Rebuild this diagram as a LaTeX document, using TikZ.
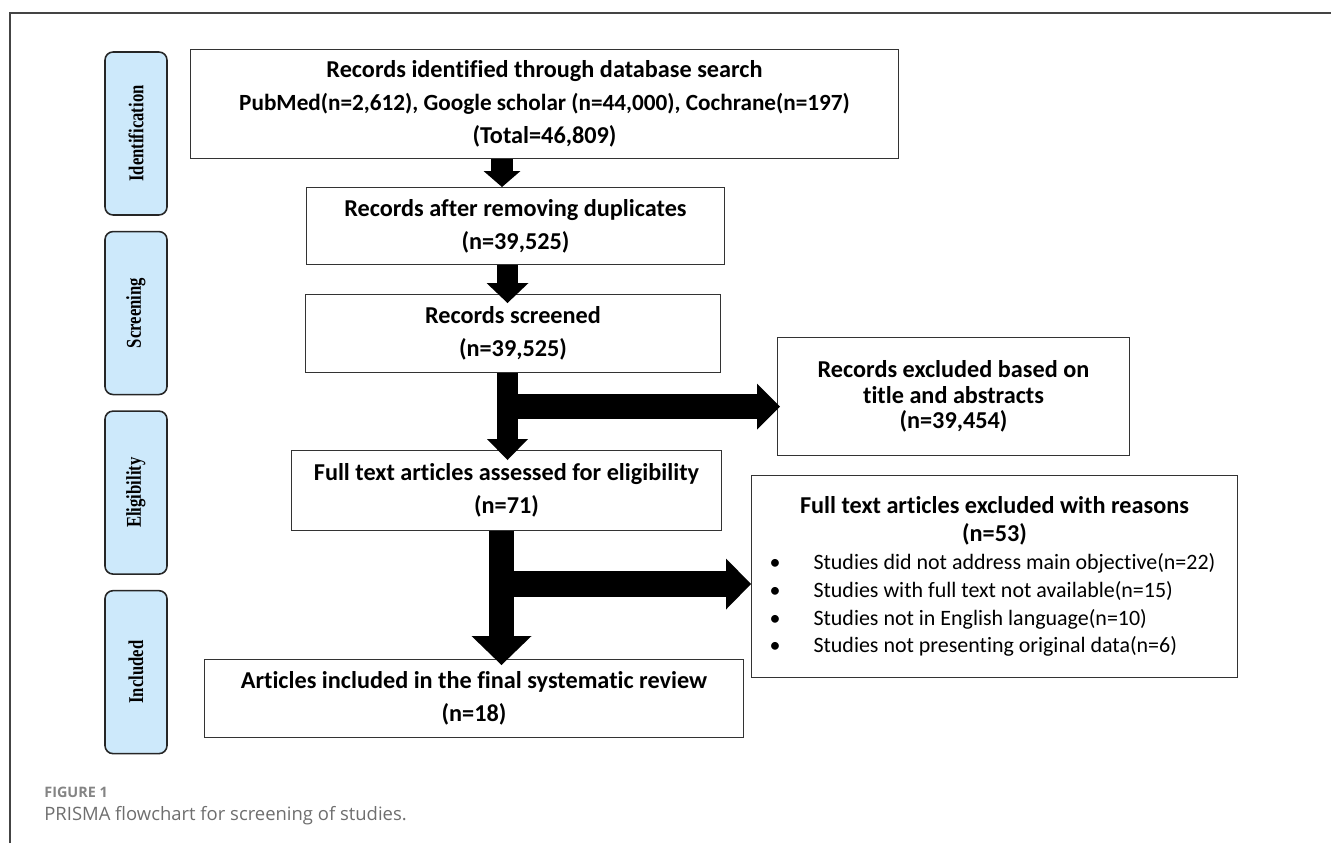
\documentclass[tikz,border=0pt]{standalone}
\usepackage{fontspec}
\usepackage{graphicx}
\usepackage{tikz}
\usetikzlibrary{arrows.meta,positioning}
\setmainfont{Carlito}[Ligatures=CommonOff]
\newfontfamily\phasefont{Liberation Serif}[FakeStretch=0.79]
\newfontfamily\capfont{Open Sans}
\definecolor{phaseblue}{RGB}{205,233,251}
\definecolor{framegray}{RGB}{68,68,68}
\definecolor{capgray}{RGB}{110,110,110}
\tikzset{
  stage/.style={draw=black!80, line width=0.6pt, fill=white, anchor=north west, inner sep=0pt, align=center, font=\bfseries\fontsize{13.8}{18.8}\selectfont},
  phase/.style={draw=black!85, line width=0.9pt, fill=phaseblue, rounded corners=0.16cm, minimum width=1.24cm, minimum height=3.26cm, inner sep=0pt, font=\phasefont\bfseries\fontsize{12}{14}\selectfont},
  fat/.style n args={3}{line width=#1, -{Triangle[width=#2,length=#3,line width=0pt]}},
}
\newcommand{\bul}{\hspace*{0.2cm}\makebox[0.88cm][l]{\textbullet}}

\begin{document}
\begin{tikzpicture}[x=0.02cm, y=-0.02cm, node distance=0.3cm]
  \useasboundingbox (0,0) rectangle (1331,843);
  \draw [framegray, line width=0.75pt] (10,843) -- (10,13) -- (1331,13);

  \node (Id) [phase] at (136,133.5) {\rotatebox{90}{Identification}};
  \node (Scr) [phase, below=of Id] {\rotatebox{90}{Screening}};
  \node (Elig) [phase, below=of Scr] {\rotatebox{90}{Eligibility}};
  \node (Inc) [phase, below=of Elig] {\rotatebox{90}{Included}};

  \node (Srch) [stage, minimum width=14.16cm, minimum height=2.18cm] at (190,49) {Records identified through database search\\{\fontsize{13.2}{18.8}\selectfont PubMed(n=2,612), Google scholar (n=44,000), Cochrane(n=197)}\\(Total=46,809)};
  \node (Dup) [stage, minimum width=8.36cm, minimum height=1.54cm] at (306,187) {Records after removing duplicates\\(n=39,525)};
  \node (Scrd) [stage, minimum width=8.3cm, minimum height=1.56cm] at (305,294) {Records screened\\(n=39,525)};
  \node (Full) [stage, minimum width=8.6cm, minimum height=1.6cm] at (291,450) {Full text articles assessed for eligibility\\(n=71)};
  \node (ExA) [stage, minimum width=7.04cm, minimum height=2.36cm, font=\bfseries\fontsize{13.8}{14.5}\selectfont] at (777,337) {Records excluded based on\\title and abstracts\\(n=39,454)};
  \node (ExF) [stage, minimum width=9.72cm, minimum height=4.04cm, text width=9.4cm, align=flush left, font=\fontsize{12.5}{15.9}\selectfont] at (751,475) {{\centering\bfseries\fontsize{13.8}{15.9}\selectfont Full text articles excluded with reasons\\(n=53)\par}\bul Studies did not address main objective(n=22)\\\bul Studies with full text not available(n=15)\\\bul Studies not in English language(n=10)\\\bul Studies not presenting original data(n=6)};
  \node (Fin) [stage, minimum width=10.78cm, minimum height=1.56cm] at (204,659) {Articles included in the final systematic review\\(n=18)};

  \coordinate (a1) at (502,0);
  \coordinate (a2) at (507.5,0);
  \coordinate (a4) at (501.5,0);
  \coordinate (b3) at (0,406.5);
  \coordinate (b4) at (0,584);
  \draw [fat={0.44cm}{0.74cm}{0.32cm}] (a1 |- Srch.south) -- (a1 |- Dup.north);
  \draw [fat={0.42cm}{0.84cm}{0.4cm}, shorten >=-0.18cm] (a2 |- Dup.south) -- (a2 |- Scrd.north);
  \draw [fat={0.42cm}{0.82cm}{0.42cm}, shorten >=-0.2cm] (a2 |- Scrd.south) -- (a2 |- Full.north);
  \draw [fat={0.5cm}{0.92cm}{0.46cm}, shorten >=-0.06cm] (a2 |- b3) -- (b3 -| ExA.west);
  \draw [fat={0.5cm}{1.2cm}{0.58cm}, shorten >=-0.12cm] (a4 |- Full.south) -- (a4 |- Fin.north);
  \draw [fat={0.52cm}{1.02cm}{0.5cm}] (a4 |- b4) -- (b4 -| ExF.west);

  \node (Fig) [anchor=base west, inner sep=0pt, font=\capfont\bfseries\fontsize{8.2}{10}\selectfont, text=capgray!85] at (44,797) {FIGURE 1};
  \node (Cap) [anchor=base west, inner sep=0pt, font=\capfont\fontsize{10.5}{12}\selectfont, text=capgray] at (44,820) {PRISMA flowchart for screening of studies.};
\end{tikzpicture}
\end{document}
